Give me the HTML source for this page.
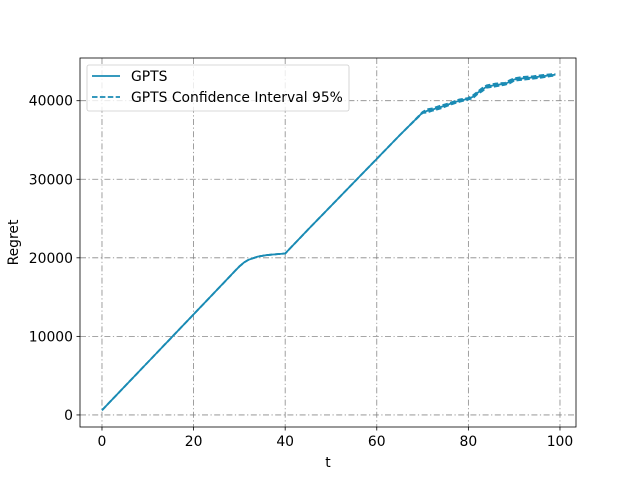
<!DOCTYPE html>
<html><head><meta charset="utf-8"><style>
body{margin:0;background:#fff}
svg{font-family:"DejaVu Sans","Liberation Sans",sans-serif}
</style></head><body>
<svg id="chart" width="640" height="480" xmlns="http://www.w3.org/2000/svg"></svg>
<script>
const tVals=[0,5,10,15,20,25,29,30,31,32,34,36,38,40,45,50,55,60,65,70,71,72,74,76,78,80,81,82,83,84,86,88,89,90,92,94,96,98,99];
const regret=[600,3650,6700,9750,12800,15850,18300,18900,19400,19750,20150,20350,20450,20550,23600,26600,29600,32600,35600,38500,38700,38850,39200,39600,40000,40250,40500,41000,41400,41800,42000,42150,42400,42700,42850,42950,43100,43250,43300];
const ciHalf=[0,0,0,0,0,0,0,0,0,0,0,0,0,0,0,0,0,0,0,60,200,150,180,120,150,100,180,150,200,150,180,120,200,150,180,150,160,120,100];
const xTicks=[0,20,40,60,80,100];
const yTicks=[0,10000,20000,30000,40000];
const svg=document.getElementById('chart');
const NS='http://www.w3.org/2000/svg';
const L=80,R=576,T=58,B=427;
const xmin=-4.8,xmax=103.5;
const ymin=-1535,ymax=45435;
const FS=13.9;
const xs=v=>L+(v-xmin)/(xmax-xmin)*(R-L);
const ys=v=>B-(v-ymin)/(ymax-ymin)*(B-T);
function mk(tag,attrs,parent){const e=document.createElementNS(NS,tag);for(const k in attrs)e.setAttribute(k,attrs[k]);(parent||svg).appendChild(e);return e;}
const grid=mk('g',{});


xTicks.forEach(v=>{
 const l=mk('line',{x1:xs(v),x2:xs(v),y1:T,y2:B,stroke:'#888','stroke-width':0.8,'stroke-dasharray':'6,2.5,1.2,2.5'},grid);
 
 
 const tk=mk('line',{x1:xs(v),x2:xs(v),y1:B,y2:B+3.5,stroke:'#000','stroke-width':0.8});
 
 
 const tx=mk('text',{x:xs(v),y:B+19,'font-size':FS,'text-anchor':'middle',fill:'#000'});
 tx.textContent=v;
 
 
});
yTicks.forEach(v=>{
 const l=mk('line',{x1:L,x2:R,y1:ys(v),y2:ys(v),stroke:'#888','stroke-width':0.8,'stroke-dasharray':'6,2.5,1.2,2.5'},grid);
 
 
 const tk=mk('line',{x1:L-3.5,x2:L,y1:ys(v),y2:ys(v),stroke:'#000','stroke-width':0.8});
 
 
 const tx=mk('text',{x:L-7,y:ys(v)+5,'font-size':FS,'text-anchor':'end',fill:'#000'});
 tx.textContent=v;
 
 
});
const C='#1a8bb4';
function pts(arr){return tVals.map((t,i)=>xs(t).toFixed(2)+','+ys(arr[i]).toFixed(2)).join(' ');}
const up=regret.map((v,i)=>v+ciHalf[i]);
const lo=regret.map((v,i)=>v-ciHalf[i]);
const u=mk('polyline',{points:pts(up),fill:'none',stroke:C,'stroke-width':1.8,'stroke-dasharray':'5.5,2.4'});


const lw=mk('polyline',{points:pts(lo),fill:'none',stroke:C,'stroke-width':1.8,'stroke-dasharray':'5.5,2.4'});


const m=mk('polyline',{points:pts(regret),fill:'none',stroke:C,'stroke-width':1.8});


const fr=mk('rect',{x:L,y:T,width:R-L,height:B-T,fill:'none',stroke:'#000','stroke-width':0.8});


const xl=mk('text',{x:(L+R)/2,y:467,'font-size':FS,'text-anchor':'middle'});xl.textContent='t';


const yl=mk('text',{x:18,y:(T+B)/2,'font-size':FS,'text-anchor':'middle',transform:`rotate(-90 18 ${(T+B)/2})`});yl.textContent='Regret';


const lg=mk('g',{});


mk('rect',{x:87,y:65,width:262,height:46,rx:2,fill:'#fff','fill-opacity':0.8,stroke:'#ccc','stroke-width':0.8},lg);
mk('line',{x1:92,x2:120,y1:76,y2:76,stroke:C,'stroke-width':1.8},lg);
mk('line',{x1:92,x2:120,y1:97,y2:97,stroke:C,'stroke-width':1.8,'stroke-dasharray':'5.5,2.4'},lg);
const t1=mk('text',{x:131,y:81,'font-size':FS},lg);t1.textContent='GPTS';


const t2=mk('text',{x:131,y:102,'font-size':FS},lg);t2.textContent='GPTS Confidence Interval 95%';


</script>
</body></html>
